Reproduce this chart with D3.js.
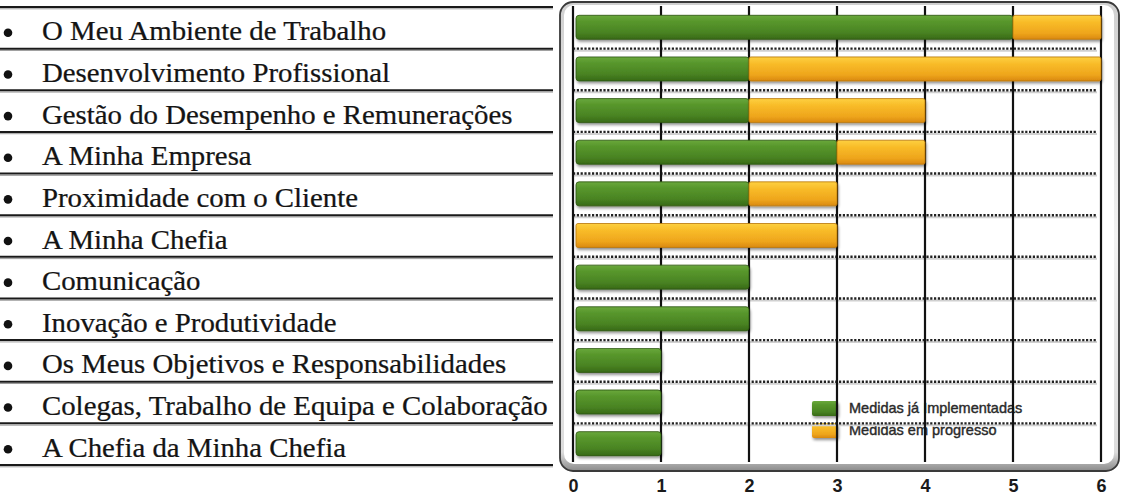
<!DOCTYPE html>
<html><head><meta charset="utf-8">
<script src="https://cdn.jsdelivr.net/npm/d3@7"></script>
<style>body{margin:0;background:#fff;overflow:hidden}</style>
</head><body>
<svg id="c" width="1123" height="498"></svg>
<script>
const categories = [
  "O Meu Ambiente de Trabalho",
  "Desenvolvimento Profissional",
  "Gestão do Desempenho e Remunerações",
  "A Minha Empresa",
  "Proximidade com o Cliente",
  "A Minha Chefia",
  "Comunicação",
  "Inovação e Produtividade",
  "Os Meus Objetivos e Responsabilidades",
  "Colegas, Trabalho de Equipa e Colaboração",
  "A Chefia da Minha Chefia"
];
const implemented = [5, 2, 2, 3, 2, 0, 2, 2, 1, 1, 1];
const inProgress  = [1, 4, 2, 1, 1, 3, 0, 0, 0, 0, 0];
const seriesNames = ["Medidas já Implementadas", "Medidas em progresso"];
const tickValues = [0, 1, 2, 3, 4, 5, 6];

const svg = d3.select("#c");
const defs = svg.append("defs");

function vgrad(id, stops) {
  const g = defs.append("linearGradient").attr("id", id).attr("x1", 0).attr("x2", 0).attr("y1", 0).attr("y2", 1);
  stops.forEach(s => g.append("stop").attr("offset", s[0]).attr("stop-color", s[1]));
}
vgrad("gGreen", [[0, "#6aa83c"], [0.25, "#58972c"], [0.7, "#4a8423"], [1, "#386a16"]]);
vgrad("gOrange", [[0, "#fdd040"], [0.3, "#f8bb28"], [0.75, "#eea51c"], [1, "#d9880e"]]);
vgrad("gPanel", [[0, "#d0d0d0"], [0.5, "#f2f2f2"], [0.96, "#dcdcdc"], [1, "#8a8a8a"]]);
const f = defs.append("filter").attr("id", "sh").attr("x", "-10%").attr("y", "-10%").attr("width", "130%").attr("height", "150%");
f.append("feGaussianBlur").attr("in", "SourceAlpha").attr("stdDeviation", 1.5);
f.append("feOffset").attr("dx", 1).attr("dy", 2).attr("result", "o");
f.append("feComponentTransfer").append("feFuncA").attr("type", "linear").attr("slope", 0.45);
const fm = f.append("feMerge"); fm.append("feMergeNode"); fm.append("feMergeNode").attr("in", "SourceGraphic");

const x = d3.scaleLinear().domain([0, 6]).range([573, 1101]);
const y = d3.scaleBand().domain(categories).range([7, 465]).paddingInner(0).paddingOuter(0);
const bw = y.bandwidth();
const barH = 24;

// ---------- left table ----------
const table = svg.append("g");
const rowLines = categories.map((c, i) => y(c)).concat([y.range()[1]]);
table.selectAll("line.sh").data(rowLines).join("line")
  .attr("x1", 0).attr("x2", 553).attr("y1", d => d + 1.8).attr("y2", d => d + 1.8)
  .attr("stroke", "#9a9a9a").attr("stroke-width", 1);
table.selectAll("line.rl").data(rowLines).join("line")
  .attr("x1", 0).attr("x2", 553).attr("y1", d => d).attr("y2", d => d)
  .attr("stroke", "#1a1a1a").attr("stroke-width", 2);

const FS = 26.5;
const labels = table.selectAll("text.lab").data(categories).join("text")
  .attr("x", 0).attr("y", 0)
  .attr("font-family", "Liberation Serif, Times New Roman, serif")
  .attr("font-size", FS).attr("fill", "#141414")
  .attr("stroke", "#141414").attr("stroke-width", 0.25)
  .text(d => d);
// fit the longest label to the reference width
let maxW = 0;
labels.each(function () { maxW = Math.max(maxW, this.getComputedTextLength()); });
const k = 506 / maxW;
labels.attr("transform", d => `translate(42,${y(d) + bw / 2 + 12.5}) scale(${k},1)`);
table.selectAll("circle.b").data(categories).join("circle")
  .attr("cx", 8).attr("cy", d => y(d) + bw / 2 + 5).attr("r", 4.3).attr("fill", "#111");

// ---------- panel ----------
svg.append("rect").attr("x", 560).attr("y", 2).attr("width", 559).attr("height", 469).attr("rx", 13)
  .attr("fill", "url(#gPanel)").attr("stroke", "#3a3a3a").attr("stroke-width", 1.8);
svg.append("rect").attr("x", 564).attr("y", 5).attr("width", 550).attr("height", 459).attr("rx", 10)
  .attr("fill", "#fff");

const plot = svg.append("g");

// legend (behind gridlines)
const leg = plot.append("g");
const legY = [401, 423];
leg.selectAll("rect").data(seriesNames).join("rect")
  .attr("x", 812).attr("y", (d, i) => legY[i]).attr("width", 26).attr("height", 15).attr("rx", 2)
  .attr("fill", (d, i) => i === 0 ? "url(#gGreen)" : "url(#gOrange)")
  .attr("filter", "url(#sh)");
leg.selectAll("text").data(seriesNames).join("text")
  .attr("x", 849).attr("y", (d, i) => legY[i] + 12)
  .attr("font-family", "Liberation Sans Narrow, Liberation Sans, Arial, sans-serif")
  .attr("font-size", 14.5).attr("fill", "#2a2a2a").attr("stroke", "#2a2a2a").attr("stroke-width", 0.4)
  .text(d => d);

// dotted separators
const seps = categories.slice(1).map(c => y(c));
plot.selectAll("line.dsh").data(seps).join("line")
  .attr("x1", 573).attr("x2", 1097).attr("y1", d => d + 2).attr("y2", d => d + 2)
  .attr("stroke", "#d0d0d0").attr("stroke-width", 2);
plot.selectAll("line.ds").data(seps).join("line")
  .attr("x1", 573).attr("x2", 1097).attr("y1", d => d).attr("y2", d => d)
  .attr("stroke", "#222").attr("stroke-width", 2.4).attr("stroke-dasharray", "2.2,1.6");

// vertical gridlines
plot.selectAll("line.v").data(tickValues).join("line")
  .attr("x1", d => x(d)).attr("x2", d => x(d)).attr("y1", 6).attr("y2", 462)
  .attr("stroke", "#111").attr("stroke-width", 2.2);

// bars
const bars = plot.append("g");
categories.forEach((c, i) => {
  const yc = y(c) + bw / 2 - 0.5;
  if (implemented[i] > 0) {
    bars.append("rect")
      .attr("x", x(0) + 3).attr("y", yc - barH / 2)
      .attr("width", x(implemented[i]) - x(0) - 3).attr("height", barH).attr("rx", 3)
      .attr("fill", "url(#gGreen)").attr("stroke", "#2c5512").attr("stroke-width", 0.8)
      .attr("filter", "url(#sh)");
  }
  if (inProgress[i] > 0) {
    const x0 = x(implemented[i]) + (implemented[i] > 0 ? 0 : 3);
    bars.append("rect")
      .attr("x", x0).attr("y", yc - barH / 2)
      .attr("width", x(implemented[i] + inProgress[i]) - x0).attr("height", barH).attr("rx", 2)
      .attr("fill", "url(#gOrange)").attr("stroke", "#b8760c").attr("stroke-width", 0.8)
      .attr("filter", "url(#sh)");
  }
});

// bottom axis labels
const axis = d3.axisBottom(x).tickValues(tickValues).tickSize(0).tickFormat(d3.format("d"));
const ag = svg.append("g").attr("transform", "translate(0,479)").call(axis);
ag.select(".domain").remove();
ag.selectAll("text").attr("font-family", "Liberation Sans, Arial, sans-serif")
  .attr("font-size", 18).attr("font-weight", "bold").attr("fill", "#1a1a1a").attr("dy", "0.71em").attr("y", 0);
</script>
</body></html>
